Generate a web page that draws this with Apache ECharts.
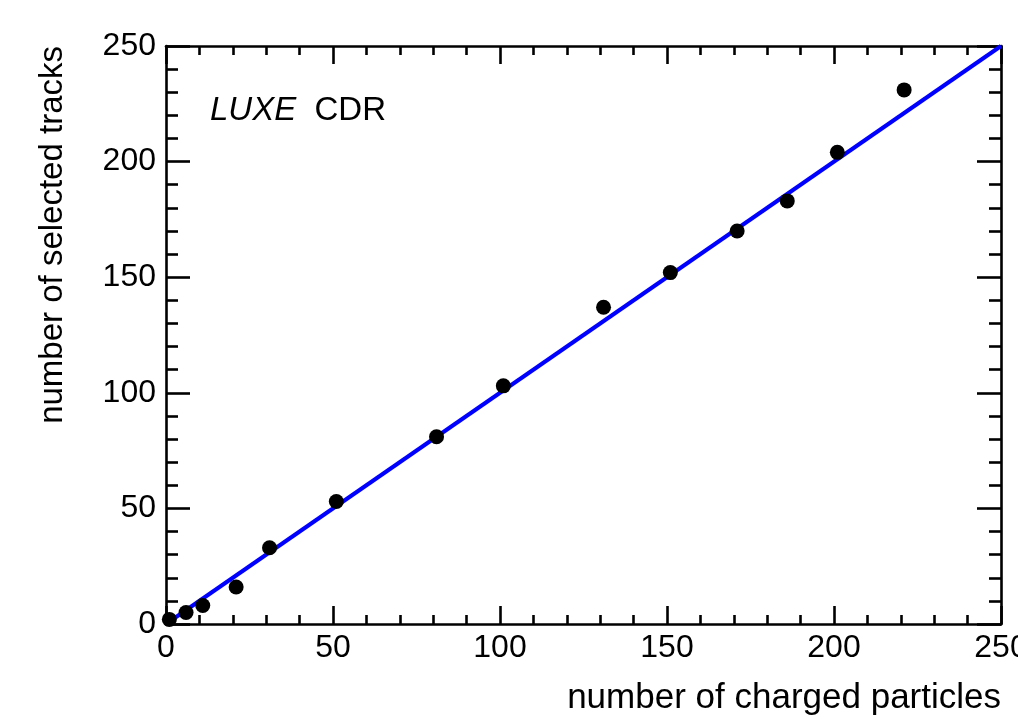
<!DOCTYPE html>
<html>
<head>
<meta charset="utf-8">
<script src="https://cdn.jsdelivr.net/npm/echarts@6/dist/echarts.min.js"></script>
<style>
  html, body { margin: 0; padding: 0; background: #fff; }
  #chartContainer { width: 1018px; height: 719px; }
</style>
</head>
<body>
<div id="chartContainer"></div>
<script>
// Measured points: charged particles vs selected tracks
const chargedParticles = [1, 6, 11, 21, 31, 51, 81, 101, 131, 151, 171, 186, 201, 221];
const selectedTracks = [2, 5, 8, 16, 33, 53, 81, 103, 137, 152, 170, 183, 204, 231];

// Linear fit line end points
const fitX = [0, 250];
const fitY = [0, 250];

// Axis tick labels
const tickValues = [0, 50, 100, 150, 200, 250];

const chart = echarts.init(document.getElementById('chartContainer'));

const fontFamily = '"Liberation Sans", Arial, Helvetica, sans-serif';

// x axes use shorter ticks than y axes, like the original plot
function makeAxis(position, showLabels, majorLen, minorLen) {
  return {
    type: 'value',
    position: position,
    min: tickValues[0],
    max: tickValues[tickValues.length - 1],
    interval: 50,
    axisLine: { show: true, onZero: false, lineStyle: { color: '#000', width: 2.6 } },
    axisTick: { show: true, inside: true, length: majorLen, lineStyle: { color: '#000', width: 2.6 } },
    minorTick: { show: true, splitNumber: 5, length: minorLen, lineStyle: { color: '#000', width: 2.6 } },
    splitLine: { show: false },
    axisLabel: {
      show: showLabels,
      color: '#000',
      fontSize: 32,
      fontFamily: fontFamily
    }
  };
}

const xBottom = makeAxis('bottom', true, 18, 9);
xBottom.axisLabel.margin = 8;
xBottom.name = 'number of charged particles';
xBottom.nameLocation = 'end';
xBottom.nameGap = 0;
xBottom.nameTextStyle = {
  color: '#000', fontSize: 35, fontFamily: fontFamily,
  align: 'right', verticalAlign: 'top', padding: [57, 0, 0, 0]
};

const yLeft = makeAxis('left', true, 24, 12);
yLeft.axisLabel.margin = 10;
yLeft.name = 'number of selected tracks';
yLeft.nameLocation = 'end';
yLeft.nameRotate = 90;
yLeft.nameGap = 0;
yLeft.nameTextStyle = {
  color: '#000', fontSize: 33, fontFamily: fontFamily,
  align: 'right', verticalAlign: 'bottom', padding: [0, 0, 97, 0]
};

const options = {
  animation: false,
  backgroundColor: '#fff',
  title: {
    text: '{i|LUXE}  CDR',
    left: 205,
    top: 89,
    textStyle: {
      color: '#000',
      fontSize: 33,
      fontFamily: fontFamily,
      fontWeight: 'normal',
      rich: {
        i: { fontStyle: 'italic', fontSize: 33, fontFamily: fontFamily, color: '#000' }
      }
    }
  },
  grid: { left: 166, right: 17, top: 46, bottom: 95, containLabel: false, outerBoundsMode: 'none' },
  xAxis: [xBottom, makeAxis('top', false, 18, 9)],
  yAxis: [yLeft, makeAxis('right', false, 24, 12)],
  series: [
    {
      type: 'line',
      data: fitX.map((x, i) => [x, fitY[i]]),
      showSymbol: false,
      symbol: 'none',
      lineStyle: { color: '#0000ff', width: 4 },
      z: 2
    },
    {
      type: 'scatter',
      data: chargedParticles.map((x, i) => [x, selectedTracks[i]]),
      symbol: 'circle',
      symbolSize: 15,
      itemStyle: { color: '#000', opacity: 1 },
      z: 3
    }
  ]
};

chart.setOption(options);
</script>
</body>
</html>
